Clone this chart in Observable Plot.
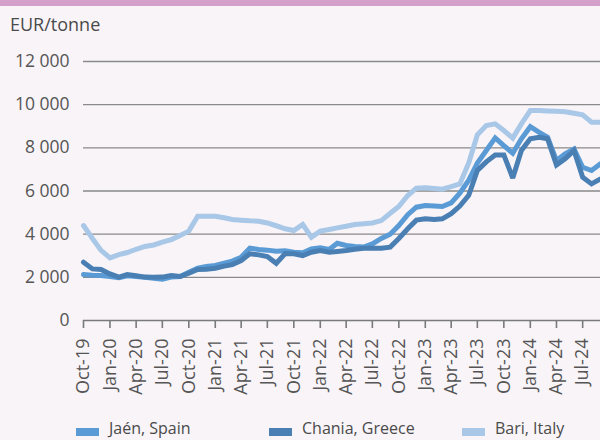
<!DOCTYPE html>
<html>
<head>
<meta charset="utf-8">
<script src="https://cdn.jsdelivr.net/npm/d3@7"></script>
<script src="https://cdn.jsdelivr.net/npm/@observablehq/plot@0.6"></script>
<style>
  html, body { margin: 0; padding: 0; background: #f8f4f8; }
  #wrap { position: relative; width: 600px; height: 440px; overflow: hidden; background: #f8f4f8; font-family: "Open Sans", sans-serif; }
  #bar { position: absolute; left: 0; top: 0; width: 600px; height: 6px; background: #d49fc8; }
  #title { position: absolute; left: 10px; top: 12px; font-size: 18px; color: #4a4a4a; }
  #chart { position: absolute; left: 0; top: 40px; }
  #legend { position: absolute; left: 0; top: 417px; width: 600px; height: 23px; font-size: 16px; line-height: 22px; color: #4a4a4a; }
  .item { position: absolute; top: 0; white-space: nowrap; }
  .sw { position: absolute; top: 11px; width: 23px; height: 8px; }
  .lab { position: absolute; top: 0; }
</style>
</head>
<body>
<div id="wrap">
  <div id="bar"></div>
  <div id="title">EUR/tonne</div>
  <div id="chart"></div>
  <div id="legend"></div>
</div>
<script>
// Monthly series, Oct-19 .. Sep-24
const startMonth = [2019, 9]; // Oct 2019 (UTC month index)
const seriesNames = ["Jaén, Spain", "Chania, Greece", "Bari, Italy"];
const seriesColors = ["#5b9bd5", "#4a7fb4", "#a9c7e7"];

const jaen = [2130, 2100, 2085, 2040, 1980, 2070, 2040, 2000, 1960, 1915, 2010, 2040,
  2240, 2420, 2500, 2550, 2660, 2750, 2930, 3350, 3290, 3260, 3210, 3230,
  3165, 3140, 3320, 3370, 3290, 3580, 3475, 3430, 3400, 3550, 3800, 4000,
  4400, 4900, 5250, 5330, 5300, 5280, 5450, 5900, 6500, 7300, 7875, 8460,
  8100, 7750, 8420, 8980, 8720, 8490, 7410, 7720, 7950, 7100, 6950, 7260];

const chania = [2700, 2390, 2360, 2160, 2010, 2130, 2070, 2010, 2000, 2010, 2085, 2040,
  2190, 2360, 2380, 2420, 2520, 2590, 2780, 3090, 3040, 2965, 2650, 3100,
  3090, 3010, 3165, 3240, 3165, 3200, 3240, 3300, 3350, 3350, 3350, 3400,
  3800, 4250, 4650, 4710, 4680, 4710, 4950, 5300, 5800, 6950, 7350, 7670,
  7670, 6600, 7875, 8420, 8490, 8420, 7200, 7490, 7875, 6640, 6330, 6560];

const bari = [4400, 3800, 3250, 2900, 3050, 3150, 3300, 3430, 3500, 3630, 3750, 3940,
  4140, 4830, 4830, 4830, 4760, 4680, 4650, 4620, 4600, 4520, 4390, 4250,
  4170, 4450, 3860, 4140, 4215, 4290, 4370, 4450, 4480, 4520, 4630, 4970,
  5280, 5790, 6130, 6150, 6115, 6080, 6200, 6330, 7300, 8600, 9035, 9110,
  8800, 8450, 9110, 9730, 9730, 9710, 9690, 9670, 9600, 9530, 9190, 9190];

const yTicks = [0, 2000, 4000, 6000, 8000, 10000, 12000];

const monthDate = i => new Date(Date.UTC(startMonth[0], startMonth[1] + i, 1));
const build = (vals, name) => vals.map((v, i) => ({date: monthDate(i), value: v, series: name}));
const drawOrder = [[bari, "Bari, Italy"], [jaen, "Jaén, Spain"], [chania, "Chania, Greece"]];

const xStart = monthDate(0), xEnd = monthDate(jaen.length - 1);
const xTicks = d3.utcMonth.every(3).range(xStart, d3.utcMonth.offset(xEnd, 1));
const fmtX = d3.utcFormat("%b-%y");
const fmtY = d => d3.format(",")(d).replace(/,/g, " ");

const marks = [
  Plot.gridY(yTicks.filter(d => d > 0), {stroke: "#8a8a8a", strokeOpacity: 1, strokeWidth: 1.3}),
  Plot.axisY(yTicks, {tickSize: 0, tickPadding: 14, tickFormat: fmtY, label: null, fontSize: 17.5, fill: "#555"}),
  Plot.ruleY([0], {stroke: "#7a7a7a", strokeWidth: 1.6}),
  Plot.axisX(xTicks, {tickSize: 8, tickRotate: -90, tickFormat: fmtX, label: null, tickPadding: 10, fontSize: 18, stroke: "#7a7a7a", strokeWidth: 1.6, fill: "#555"})
];
for (const [vals, name] of drawOrder) {
  marks.push(Plot.lineY(build(vals, name), {
    x: "date", y: "value",
    stroke: seriesColors[seriesNames.indexOf(name)],
    strokeWidth: 5, strokeLinejoin: "miter", strokeMiterlimit: 3, curve: "linear"
  }));
}

const chart = Plot.plot({
  width: 600, height: 360,
  marginTop: 21, marginBottom: 80, marginLeft: 83, marginRight: 0,
  style: {background: "transparent", fontFamily: "Open Sans, sans-serif", fontSize: "17px", color: "#555", overflow: "hidden"},
  x: {type: "utc", domain: [xStart, xEnd]},
  y: {domain: [0, 12000]},
  marks
});
document.getElementById("chart").appendChild(chart);

// Legend
const legendPos = [76, 269, 462];
const legend = document.getElementById("legend");
seriesNames.forEach((name, i) => {
  const item = document.createElement("div");
  item.className = "item";
  item.style.left = legendPos[i] + "px";
  item.innerHTML = `<div class="sw" style="left:0;background:${seriesColors[i]}"></div><div class="lab" style="left:33px">${name}</div>`;
  legend.appendChild(item);
});
</script>
</body>
</html>
